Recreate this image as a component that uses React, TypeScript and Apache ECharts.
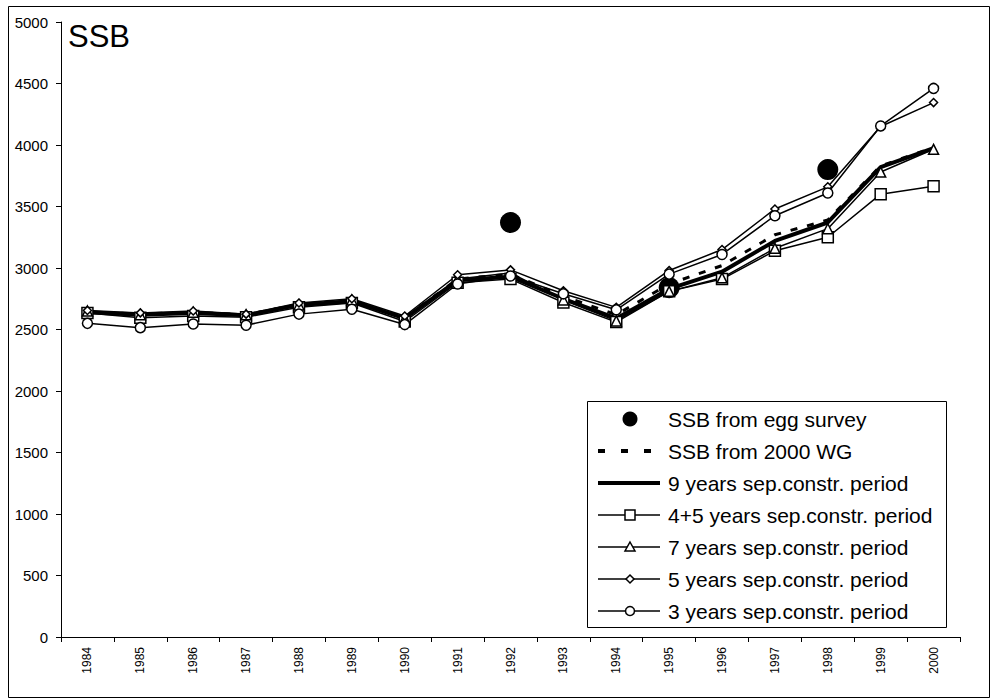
import React, { useEffect, useRef } from 'react';
import * as echarts from 'echarts';

const years = ['1984', '1985', '1986', '1987', '1988', '1989', '1990', '1991', '1992', '1993', '1994', '1995', '1996', '1997', '1998', '1999', '2000'];
const eggYears = ['1992', '1995', '1998'];
const eggValues = [3370, 2840, 3800];
const wg2000 = [2645, 2625, 2640, 2620, 2705, 2735, 2595, 2910, 2950, 2770, 2620, 2870, 3020, 3270, 3390, 3830, 3980];
const sep9 = [2640, 2620, 2635, 2615, 2700, 2730, 2590, 2900, 2930, 2750, 2590, 2830, 2970, 3220, 3370, 3820, 3975];
const sep45 = [2635, 2595, 2610, 2600, 2680, 2715, 2565, 2880, 2910, 2720, 2560, 2810, 2910, 3140, 3250, 3600, 3665];
const sep7 = [2650, 2620, 2640, 2620, 2700, 2740, 2590, 2910, 2960, 2740, 2570, 2810, 2920, 3160, 3320, 3780, 3965];
const sep5 = [2655, 2635, 2650, 2625, 2715, 2750, 2610, 2945, 2985, 2815, 2680, 2980, 3150, 3480, 3660, 4150, 4345];
const sep3 = [2550, 2515, 2545, 2535, 2625, 2665, 2540, 2870, 2935, 2790, 2660, 2950, 3110, 3425, 3610, 4155, 4460];

const legendNames = [
  'SSB from egg survey',
  'SSB from 2000 WG',
  '9 years sep.constr. period',
  '4+5 years sep.constr. period',
  '7 years sep.constr. period',
  '5 years sep.constr. period',
  '3 years sep.constr. period',
];

const FONT = 'Liberation Sans, Arial, sans-serif';

function legendGraphics() {
  const els: any[] = [];
  const bx = 587.5, by = 401.5, bw = 359, bh = 226;
  els.push({ type: 'rect', shape: { x: bx, y: by, width: bw, height: bh }, style: { fill: '#fff', stroke: '#000', lineWidth: 1 }, z: 50 });
  const x1 = 598, x2 = 660, cx = 630;
  legendNames.forEach((name, i) => {
    const cy = 419 + 32 * i;
    if (i === 0) {
      els.push({ type: 'circle', shape: { cx, cy, r: 7.5 }, style: { fill: '#000' }, z: 51 });
    } else if (i === 1) {
      els.push({ type: 'line', shape: { x1, y1: cy, x2, y2: cy }, style: { stroke: '#000', lineWidth: 4, lineDash: [7, 16] }, z: 51 });
    } else if (i === 2) {
      els.push({ type: 'line', shape: { x1, y1: cy, x2, y2: cy }, style: { stroke: '#000', lineWidth: 4 }, z: 51 });
    } else {
      els.push({ type: 'line', shape: { x1, y1: cy, x2, y2: cy }, style: { stroke: '#000', lineWidth: 1.5 }, z: 51 });
      const sym = { fill: '#fff', stroke: '#000', lineWidth: 1.5 };
      if (i === 3) els.push({ type: 'rect', shape: { x: cx - 5, y: cy - 5, width: 10, height: 10 }, style: sym, z: 52 });
      if (i === 4) els.push({ type: 'polygon', shape: { points: [[cx, cy - 5], [cx + 5, cy + 4], [cx - 5, cy + 4]] }, style: sym, z: 52 });
      if (i === 5) els.push({ type: 'polygon', shape: { points: [[cx, cy - 4], [cx + 4, cy], [cx, cy + 4], [cx - 4, cy]] }, style: sym, z: 52 });
      if (i === 6) els.push({ type: 'circle', shape: { cx, cy, r: 4.5 }, style: sym, z: 52 });
    }
    els.push({
      type: 'text',
      x: 668,
      y: cy,
      style: { text: name, fontFamily: FONT, fontSize: 21, fill: '#000', verticalAlign: 'middle', align: 'left' },
      z: 52,
    });
  });
  return els;
}

export default function App() {
  const ref = useRef<HTMLDivElement>(null);
  useEffect(() => {
    const chart = echarts.init(ref.current as HTMLDivElement, null, { renderer: 'svg' });
    const openLine = (name: string, data: number[], symbol: string, size: number) => ({
      name,
      type: 'line',
      data,
      symbol,
      symbolSize: size,
      showAllSymbol: true,
      lineStyle: { color: '#000', width: 1.5 },
      itemStyle: { color: '#fff', borderColor: '#000', borderWidth: 1.5, opacity: 1 },
      emphasis: { disabled: true },
      z: 3,
    });
    chart.setOption({
      animation: false,
      backgroundColor: '#fff',
      textStyle: { fontFamily: FONT, color: '#000' },
      title: {
        text: 'SSB',
        left: 63,
        top: 16,
        textStyle: { fontFamily: FONT, fontSize: 31, fontWeight: 'normal', color: '#000' },
      },
      grid: { left: 61, right: 32, top: 22, bottom: 62 },
      xAxis: {
        type: 'category',
        data: years,
        boundaryGap: true,
        axisLine: { lineStyle: { color: '#000', width: 1 } },
        axisTick: { show: true, interval: 0, length: 5, lineStyle: { color: '#000' } },
        axisLabel: { interval: 0, rotate: 90, fontSize: 12, color: '#000', fontFamily: FONT, margin: 10 },
        splitLine: { show: false },
      },
      yAxis: {
        type: 'value',
        min: 0,
        max: 5000,
        interval: 500,
        axisLine: { show: true, lineStyle: { color: '#000', width: 1 } },
        axisTick: { show: true, length: 5, lineStyle: { color: '#000' } },
        axisLabel: { fontSize: 15, color: '#000', fontFamily: FONT, margin: 13, formatter: (v: number) => String(v) },
        splitLine: { show: false },
      },
      graphic: [
        {
          type: 'rect',
          shape: { x: 8.5, y: 6.5, width: 981, height: 691 },
          style: { fill: 'none', stroke: '#000', lineWidth: 1 },
          silent: true,
          z: -10,
        },
        ...legendGraphics(),
      ],
      series: [
        {
          name: legendNames[0],
          type: 'scatter',
          data: eggYears.map((y, i) => [y, eggValues[i]]),
          symbol: 'circle',
          symbolSize: 21,
          itemStyle: { color: '#000', opacity: 1 },
          emphasis: { disabled: true },
          z: 2,
        },
        {
          name: legendNames[1],
          type: 'line',
          data: wg2000,
          symbol: 'none',
          lineStyle: { color: '#000', width: 3, type: [7, 10] },
          itemStyle: { color: '#000' },
          emphasis: { disabled: true },
          z: 3,
        },
        {
          name: legendNames[2],
          type: 'line',
          data: sep9,
          symbol: 'none',
          lineStyle: { color: '#000', width: 4 },
          itemStyle: { color: '#000' },
          emphasis: { disabled: true },
          z: 3,
        },
        openLine(legendNames[3], sep45, 'rect', 11),
        openLine(legendNames[4], sep7, 'triangle', 10),
        openLine(legendNames[5], sep5, 'diamond', 8),
        openLine(legendNames[6], sep3, 'circle', 10),
      ],
    });
    return () => chart.dispose();
  }, []);
  return (
    <div
      ref={ref}
      style={{ position: 'absolute', left: 0, top: 0, width: 992, height: 699, background: '#fff' }}
    />
  );
}
